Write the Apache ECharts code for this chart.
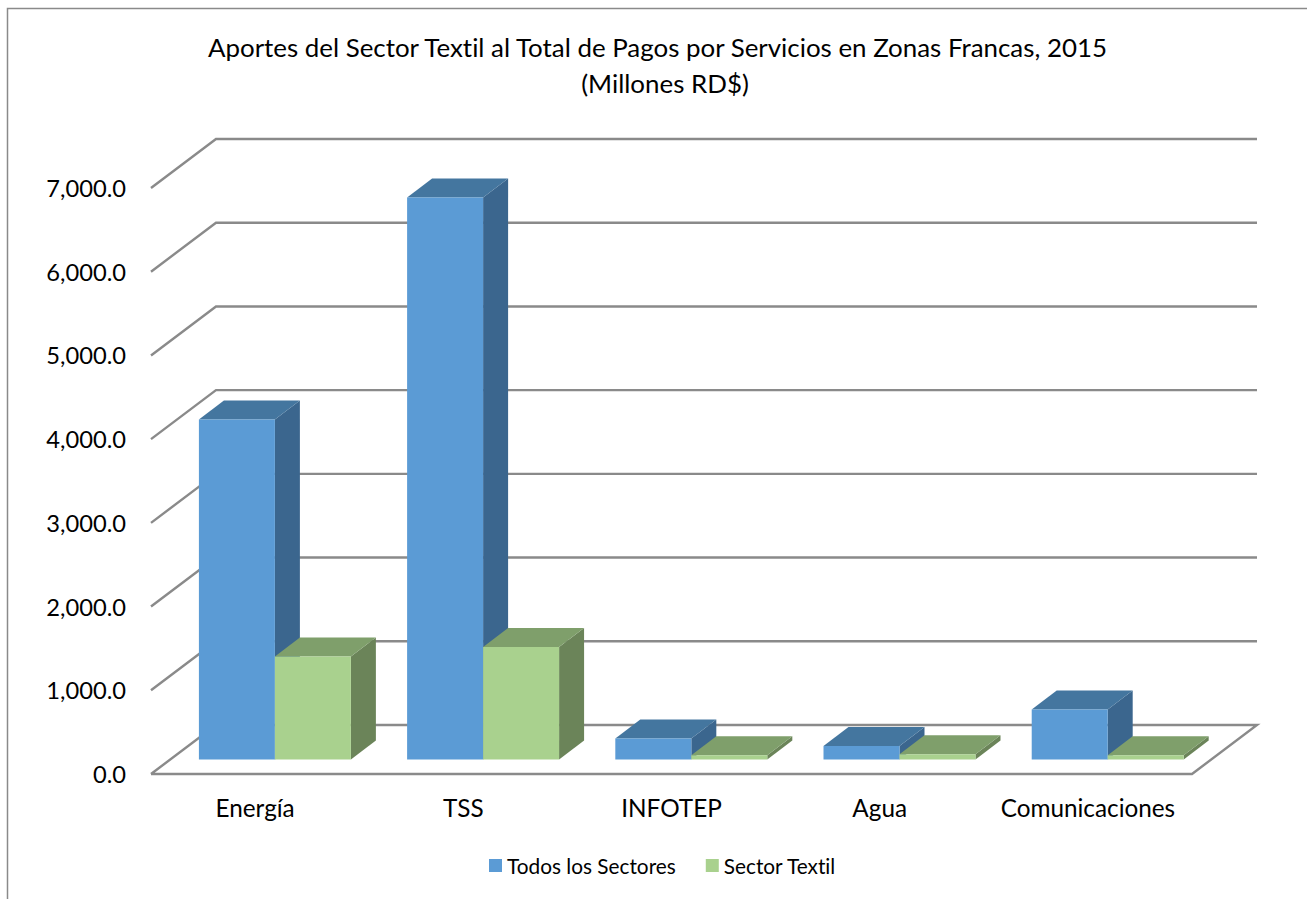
<!DOCTYPE html>
<html>
<head>
<meta charset="utf-8">
<title>Aportes del Sector Textil</title>
<style>
html, body { margin: 0; padding: 0; background: #fff; }
#main { width: 1307px; height: 899px; }
svg text { font-variant-ligatures: none; }
</style>
<script src="https://cdn.jsdelivr.net/npm/echarts@6/dist/echarts.min.js"></script>
</head>
<body>
<div id="main"></div>
<script>
var categories = ['Energía', 'TSS', 'INFOTEP', 'Agua', 'Comunicaciones'];
var todosSectores = [4062, 6714, 251, 161, 597];
var sectorTextil = [1230, 1344, 51, 63, 51];
var yTicks = [0, 1000, 2000, 3000, 4000, 5000, 6000, 7000];

var FONT = 'Lato';
var LINE = '#8a8a8a';

// how far the back wall sits from the front of the floor
var WALL_DX = 65, WALL_DY = -49;
// where the bars stand on the floor, and how deep they are
var BAR_DX = 19.8, BAR_DY = -14.5, DEPTH_DX = 25, DEPTH_DY = -19;

function gridLine(params, api) {
	var c = params.coordSys;
	var y = api.coord([0, api.value(0)])[1];
	var x0 = c.x, x1 = c.x + c.width;
	var pts = [[x0, y], [x0 + WALL_DX, y + WALL_DY], [x1 + WALL_DX, y + WALL_DY]];
	// floor: close it with the front edge and the right edge
	if (api.value(0) === 0) {
		pts.push([x1, y], [x0, y]);
	}
	return {
		type: 'polyline',
		shape: { points: pts },
		style: { fill: null, stroke: LINE, lineWidth: 2.4 }
	};
}

function bar3d(side, colors) {
	return function (params, api) {
		var top = api.coord([api.value(0), api.value(1)]);
		var bottom = api.coord([api.value(0), 0]);
		var w = api.size([1, 0])[0] * 0.365;
		var x0 = top[0] + BAR_DX + (side < 0 ? -w : 0);
		var x1 = x0 + w;
		var yT = top[1] + BAR_DY;
		var yB = bottom[1] + BAR_DY;
		return {
			type: 'group',
			children: [{
				type: 'polygon',
				shape: { points: [[x1, yT], [x1 + DEPTH_DX, yT + DEPTH_DY], [x1 + DEPTH_DX, yB + DEPTH_DY], [x1, yB]] },
				style: { fill: colors[1] }
			}, {
				type: 'polygon',
				shape: { points: [[x0, yT], [x0 + DEPTH_DX, yT + DEPTH_DY], [x1 + DEPTH_DX, yT + DEPTH_DY], [x1, yT]] },
				style: { fill: colors[2] }
			}, {
				type: 'rect',
				shape: { x: x0, y: yT, width: w, height: yB - yT },
				style: { fill: colors[0] }
			}]
		};
	};
}

var myChart = echarts.init(document.getElementById('main'), null, { renderer: 'svg' });
var option = {
	animation: false,
	title: [{
		text: 'Aportes del Sector Textil al Total de Pagos por Servicios en Zonas Francas, 2015',
		left: 652.5,
		top: 29,
		textAlign: 'center',
		textStyle: { fontFamily: FONT, fontSize: 25.9, fontWeight: 'normal', color: '#000' }
	}, {
		text: '(Millones RD$)',
		left: 660,
		top: 65,
		textAlign: 'center',
		textStyle: { fontFamily: FONT, fontSize: 25.9, fontWeight: 'normal', color: '#000' }
	}],
	legend: {
		data: ['Todos los Sectores', 'Sector Textil'],
		left: 484,
		top: 850,
		itemWidth: 13,
		itemHeight: 13,
		itemGap: 30,
		icon: 'rect',
		selectedMode: false,
		textStyle: { fontFamily: FONT, fontSize: 20.8, color: '#000' }
	},
	graphic: [{
		type: 'polyline',
		shape: { points: [[7.5, 899], [7.5, 8.5], [1307, 8.5]] },
		style: { fill: null, stroke: '#8a8a8a', lineWidth: 1.5 },
		silent: true
	}],
	grid: {
		left: 151,
		right: 115,
		top: 188,
		bottom: 125
	},
	xAxis: {
		type: 'category',
		data: categories,
		axisLine: { show: false },
		axisTick: { show: false },
		axisLabel: { margin: 21.5, fontFamily: FONT, fontSize: 24.3, color: '#000', interval: 0 }
	},
	yAxis: {
		type: 'value',
		min: 0,
		max: 7000,
		interval: 1000,
		splitLine: { show: false },
		axisLine: { show: false },
		axisTick: { show: false },
		axisLabel: {
			margin: 25,
			fontFamily: FONT,
			fontSize: 23.7,
			color: '#000',
			padding: [4, 0, 0, 0],
			formatter: function (v) {
				return v.toLocaleString('en-US', { minimumFractionDigits: 1, maximumFractionDigits: 1 });
			}
		}
	},
	series: [{
		type: 'custom',
		silent: true,
		renderItem: gridLine,
		encode: { y: 0 },
		data: yTicks.map(function (t) { return [t]; }),
		z: 1
	}, {
		name: 'Todos los Sectores',
		type: 'custom',
		renderItem: bar3d(-1, ['#5b9bd5', '#3b668e', '#44769f']),
		itemStyle: { color: '#5b9bd5' },
		encode: { x: 0, y: 1 },
		data: todosSectores.map(function (v, i) { return [i, v]; }),
		z: 2
	}, {
		name: 'Sector Textil',
		type: 'custom',
		renderItem: bar3d(1, ['#a9d18e', '#6b8459', '#7f9f6b']),
		itemStyle: { color: '#a9d18e' },
		encode: { x: 0, y: 1 },
		data: sectorTextil.map(function (v, i) { return [i, v]; }),
		z: 3
	}]
};
myChart.setOption(option);
window.onresize = myChart.resize;
</script>
</body>
</html>
